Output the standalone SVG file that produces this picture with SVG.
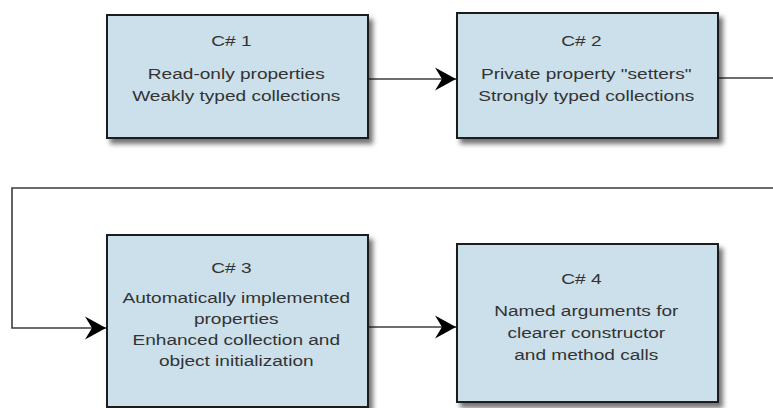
<svg xmlns="http://www.w3.org/2000/svg" width="773" height="408" viewBox="0 0 773 408">
  <style>
    .box { fill: #cbe0eb; stroke: #1c1c1c; stroke-width: 2; }
    .t { font-family: "Liberation Sans", Arial, sans-serif; font-size: 15.5px; fill: #333333; text-anchor: middle; }
    .conn { fill: none; stroke: #3c3c3c; stroke-width: 1.6; }
  </style>
  <defs>
    <filter id="shadow" x="-10%" y="-10%" width="125%" height="130%">
      <feDropShadow dx="4" dy="5" stdDeviation="2.5" flood-color="#000000" flood-opacity="0.55"/>
    </filter>
    <marker id="arrow" markerUnits="userSpaceOnUse" viewBox="-21 -12 22 24" markerWidth="22" markerHeight="24" refX="0" refY="0" orient="auto">
      <path d="M0,0 L-21,-11.5 L-14,0 L-21,11.5 Z" fill="#000000"/>
    </marker>
  </defs>
  <rect width="773" height="408" fill="#ffffff"/>

  <g id="connectors">
    <path class="conn" d="M368,79 L456,79" marker-end="url(#arrow)"/>
    <path class="conn" d="M718,78 L773,78"/>
    <path class="conn" d="M773,188 L12,188 L12,328 L106,328" marker-end="url(#arrow)"/>
    <path class="conn" d="M368,327 L456,327" marker-end="url(#arrow)"/>
  </g>

  <g id="node-cs1">
    <rect class="box" x="107" y="15" width="261" height="123" filter="url(#shadow)"/>
    <g transform="translate(237.5 0) scale(1.23 1)">
      <text class="t" x="-5" y="46">C# 1</text>
      <text class="t" x="-1" y="79">Read-only properties</text>
      <text class="t" x="-1" y="101">Weakly typed collections</text>
    </g>
  </g>

  <g id="node-cs2">
    <rect class="box" x="457" y="13" width="261" height="125" filter="url(#shadow)"/>
    <g transform="translate(587.5 0) scale(1.23 1)">
      <text class="t" x="-5" y="46">C# 2</text>
      <text class="t" x="-1" y="79">Private property "setters"</text>
      <text class="t" x="-1" y="101">Strongly typed collections</text>
    </g>
  </g>

  <g id="node-cs3">
    <rect class="box" x="107" y="235" width="261" height="172" filter="url(#shadow)"/>
    <g transform="translate(237.5 0) scale(1.23 1)">
      <text class="t" x="-5" y="273">C# 3</text>
      <text class="t" x="-1" y="303">Automatically implemented</text>
      <text class="t" x="-1" y="324">properties</text>
      <text class="t" x="-1" y="345">Enhanced collection and</text>
      <text class="t" x="-1" y="366">object initialization</text>
    </g>
  </g>

  <g id="node-cs4">
    <rect class="box" x="457" y="244" width="261" height="158" filter="url(#shadow)"/>
    <g transform="translate(587.5 0) scale(1.23 1)">
      <text class="t" x="-5" y="284">C# 4</text>
      <text class="t" x="-1" y="316">Named arguments for</text>
      <text class="t" x="-1" y="338">clearer constructor</text>
      <text class="t" x="-1" y="360">and method calls</text>
    </g>
  </g>
</svg>
